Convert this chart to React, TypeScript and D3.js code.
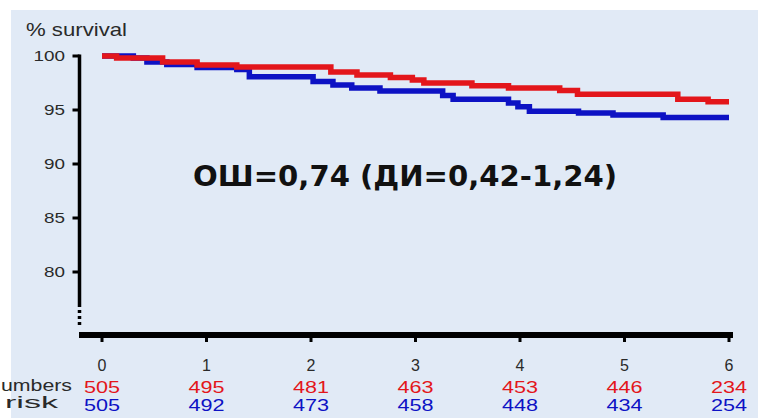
import React from 'react';
import * as d3 from 'd3';

// survival curves (years, % survival)
const redTimes = [0, 0.14, 0.58, 0.91, 1.29, 2.19, 2.44, 2.76, 2.97, 3.08, 3.54, 3.89, 4.38, 4.55, 5.51, 5.8];
const redSurv = [100, 99.81, 99.44, 99.17, 98.98, 98.52, 98.24, 98.01, 97.78, 97.5, 97.25, 97.04, 96.81, 96.45, 95.99, 95.77];
const blueTimes = [0, 0.3, 0.43, 0.62, 0.91, 1.29, 1.41, 2.02, 2.21, 2.39, 2.66, 3.26, 3.36, 3.89, 3.98, 4.09, 4.56, 4.89, 5.37];
const blueSurv = [100, 99.81, 99.44, 99.21, 98.94, 98.75, 98.08, 97.64, 97.31, 97.04, 96.76, 96.34, 95.99, 95.65, 95.31, 94.89, 94.72, 94.54, 94.31];

const xTicks = [0, 1, 2, 3, 4, 5, 6];
const yTicks = [80, 85, 90, 95, 100];
const redAtRisk = ['505', '495', '481', '463', '453', '446', '234'];
const blueAtRisk = ['505', '492', '473', '458', '448', '434', '254'];

const title = 'ОШ=0,74 (ДИ=0,42-1,24)';

const RED = '#e3161b';
const BLUE = '#0d12c4';
const INK = '#2a2a2a';

function toPoints(times: number[], vals: number[], end: number) {
  const pts = times.map((t, i) => ({ t, v: vals[i] }));
  pts.push({ t: end, v: vals[vals.length - 1] });
  return pts;
}

export default function App() {
  const width = 758;
  const height = 418;

  const x = d3.scaleLinear().domain([0, 6]).range([102, 729]);
  const y = d3.scaleLinear().domain([80, 100]).range([272, 56]);

  const line = d3.line<{ t: number; v: number }>()
    .x(d => x(d.t))
    .y(d => y(d.v))
    .curve(d3.curveStepAfter);

  const redPath = line(toPoints(redTimes, redSurv, 6)) || '';
  const bluePath = line(toPoints(blueTimes, blueSurv, 6)) || '';

  const axisX = 79.5;
  const axisY = 335;

  return (
    <svg width={width} height={height}
      style={{ position: 'absolute', left: 0, top: 0, display: 'block' }}
      fontFamily="Arial, 'Liberation Sans', sans-serif">
      <rect x={0} y={0} width={width} height={height} fill="#ffffff" />
      <rect x={11} y={10} width={width - 11} height={height - 10} fill="#e1eaf6" />

      {/* y label */}
      <text x={26} y={35.5} fontSize={19} fill={INK} textLength={101} lengthAdjust="spacingAndGlyphs">% survival</text>

      {/* y axis */}
      <line x1={axisX} x2={axisX} y1={y(100) - 1.5} y2={307} stroke="#000" strokeWidth={3.5} />
      {[310, 316, 322].map(d => (
        <rect key={d} x={axisX - 1.75} y={d} width={3.5} height={3} fill="#000" />
      ))}
      {yTicks.map(t => (
        <g key={t}>
          <line x1={axisX - 7} x2={axisX} y1={y(t)} y2={y(t)} stroke="#000" strokeWidth={3} />
          <text x={65} y={y(t) + 5} fontSize={14} fill={INK} textAnchor="end"
            textLength={String(t).length * 10.5} lengthAdjust="spacingAndGlyphs">{t}</text>
        </g>
      ))}

      {/* x axis */}
      <rect x={79} y={axisY - 3} width={654} height={6} fill="#000" />
      {xTicks.map(t => (
        <g key={t}>
          <rect x={x(t) - 1.5} y={axisY + 3} width={3} height={4} fill="#000" />
          <text x={x(t)} y={371} fontSize={16} fill={INK} textAnchor="middle">{t}</text>
          <text x={x(t)} y={393} fontSize={16} fill={RED} textAnchor="middle"
            textLength={36} lengthAdjust="spacingAndGlyphs">{redAtRisk[t]}</text>
          <text x={x(t)} y={411} fontSize={16} fill={BLUE} textAnchor="middle"
            textLength={36} lengthAdjust="spacingAndGlyphs">{blueAtRisk[t]}</text>
        </g>
      ))}
      <text x={1} y={391} fontSize={16} fill={INK} textLength={71} lengthAdjust="spacingAndGlyphs">umbers</text>
      <text x={5} y={408} fontSize={16} fill={INK} textLength={53} lengthAdjust="spacingAndGlyphs">risk</text>

      {/* curves */}
      <path d={bluePath} fill="none" stroke={BLUE} strokeWidth={5.5} />
      <path d={redPath} fill="none" stroke={RED} strokeWidth={5.5} />

      {/* annotation */}
      <text x={193} y={186} fontSize={28} fontWeight="bold" fill="#111"
        fontFamily="'DejaVu Sans', Verdana, sans-serif"
        textLength={424} lengthAdjust="spacingAndGlyphs">{title}</text>
    </svg>
  );
}
